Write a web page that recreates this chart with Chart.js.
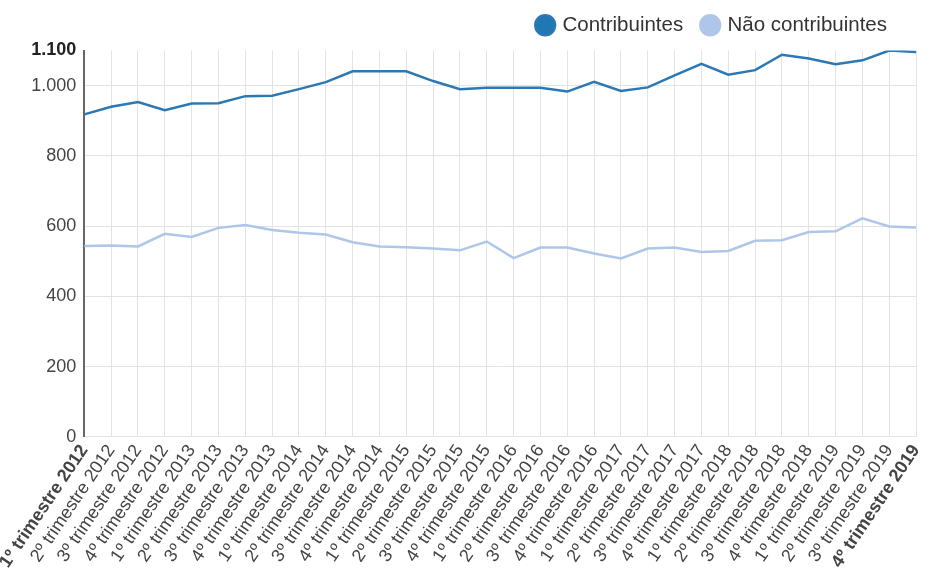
<!DOCTYPE html>
<html>
<head>
<meta charset="utf-8">
<script src="https://cdn.jsdelivr.net/npm/chart.js@4/dist/chart.umd.min.js"></script>
<style>
  html, body { margin: 0; padding: 0; background: #fff; }
  #wrap { width: 938px; height: 576px; position: relative; }
</style>
</head>
<body>
<div id="wrap"><canvas id="chart"></canvas></div>
<script>
// quarters, Q1 2012 .. Q4 2019
const categories = [
  "1º trimestre 2012", "2º trimestre 2012", "3º trimestre 2012", "4º trimestre 2012",
  "1º trimestre 2013", "2º trimestre 2013", "3º trimestre 2013", "4º trimestre 2013",
  "1º trimestre 2014", "2º trimestre 2014", "3º trimestre 2014", "4º trimestre 2014",
  "1º trimestre 2015", "2º trimestre 2015", "3º trimestre 2015", "4º trimestre 2015",
  "1º trimestre 2016", "2º trimestre 2016", "3º trimestre 2016", "4º trimestre 2016",
  "1º trimestre 2017", "2º trimestre 2017", "3º trimestre 2017", "4º trimestre 2017",
  "1º trimestre 2018", "2º trimestre 2018", "3º trimestre 2018", "4º trimestre 2018",
  "1º trimestre 2019", "2º trimestre 2019", "3º trimestre 2019", "4º trimestre 2019"
];

const contribuintes = [
  918, 940, 953, 930, 949, 950, 970, 971,
  990, 1010, 1041, 1041, 1041, 1013, 990, 994,
  994, 994, 983, 1011, 985, 995, 1029, 1062,
  1031, 1044, 1088, 1077, 1061, 1072, 1100, 1096
];

const naoContribuintes = [
  543, 545, 542, 578, 569, 595, 603, 589,
  581, 576, 554, 542, 540, 536, 531, 556,
  509, 539, 539, 522, 508, 536, 539, 526,
  529, 558, 560, 583, 585, 622, 599, 596
];

const yTicks = [0, 200, 400, 600, 800, 1000, 1100];

function fmt(v) {
  return String(v).replace(/\B(?=(\d{3})+(?!\d))/g, ".");
}

// nudge the legend up and a bit left of the plot's right edge
const legendShift = {
  id: 'legendShift',
  afterLayout(chart) {
    if (!chart.legend) return;
    chart.legend.right -= 12;
    chart.legend.top -= 5;
  }
};

new Chart(document.getElementById("chart"), {
  type: 'line',
  data: {
    labels: categories,
    datasets: [
      {
        label: "Contribuintes",
        data: contribuintes,
        borderColor: "#2b78b3",
        backgroundColor: "#1f77b4",
        borderWidth: 2.5,
        pointRadius: 0,
        tension: 0
      }, {
        label: "Não contribuintes",
        data: naoContribuintes,
        borderColor: "#aec7e8",
        backgroundColor: "#aec7e8",
        borderWidth: 2.5,
        pointRadius: 0,
        tension: 0
      }
    ]
  },
  options: {
    responsive: true,
    maintainAspectRatio: false,
    animation: false,
    layout: { padding: { left: 0, right: 19, top: 0, bottom: 0 } },
    plugins: {
      tooltip: { enabled: false },
      legend: {
        position: 'top',
        align: 'end',
        labels: {
          usePointStyle: true,
          pointStyle: 'circle',
          boxWidth: 14,
          boxHeight: 14,
          padding: 20,
          color: '#333',
          font: { family: "'Liberation Sans', Arial, sans-serif", size: 20.5 }
        }
      }
    },
    scales: {
      x: {
        grid: { color: '#e3e3e3', drawTicks: false },
        border: { color: '#e3e3e3' },
        ticks: {
          autoSkip: false,
          minRotation: 56,
          maxRotation: 56,
          padding: 4,
          color: '#444',
          font: (ctx) => ({
            family: "'Liberation Sans', Arial, sans-serif",
            size: 18,
            weight: (ctx.index === 0 || ctx.index === categories.length - 1) ? 'bold' : 'normal'
          })
        }
      },
      y: {
        min: 0,
        max: 1100,
        afterBuildTicks: (axis) => {
          axis.ticks = yTicks.map(v => ({ value: v }));
        },
        grid: {
          drawTicks: false,
          color: (ctx) => (ctx.tick && ctx.tick.value === 1100) ? 'rgba(0,0,0,0)' : '#e3e3e3'
        },
        border: { color: '#666', width: 2 },
        ticks: {
          padding: 8,
          color: (ctx) => (ctx.tick && ctx.tick.value === 1100) ? '#222' : '#444',
          font: (ctx) => ({
            family: "'Liberation Sans', Arial, sans-serif",
            size: 18,
            weight: (ctx.tick && ctx.tick.value === 1100) ? 'bold' : 'normal'
          }),
          callback: (v) => fmt(v)
        }
      }
    }
  },
  plugins: [legendShift]
});
</script>
</body>
</html>
